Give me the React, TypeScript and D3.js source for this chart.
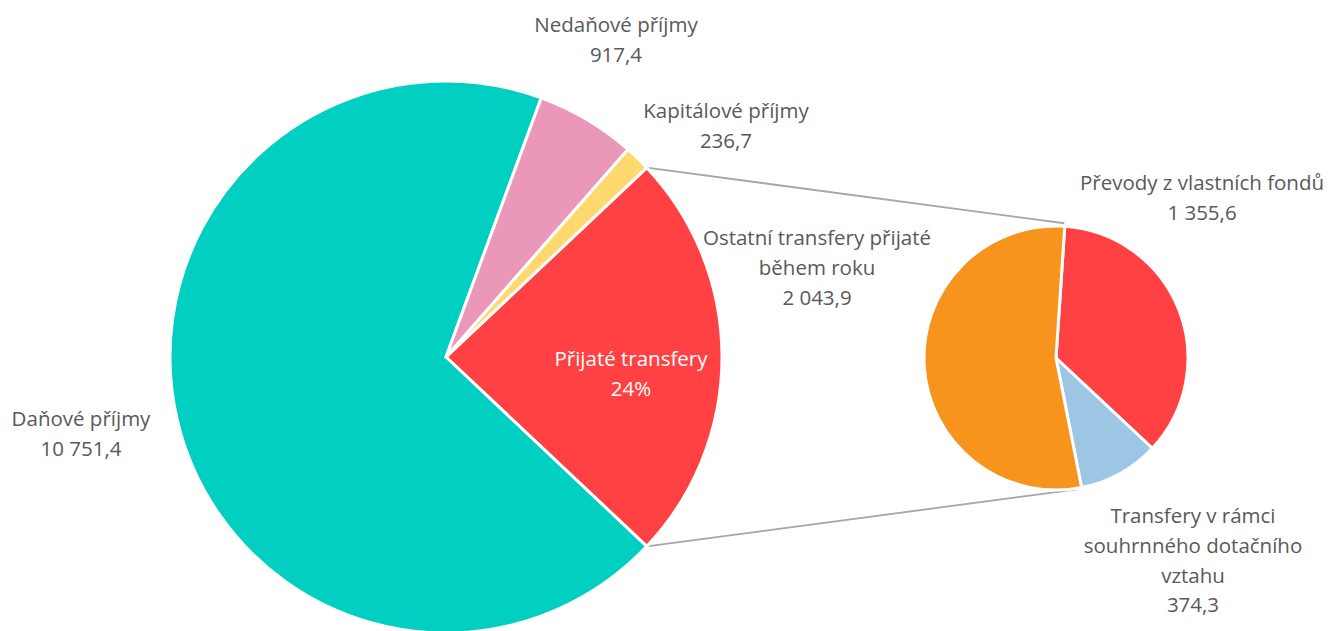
import React from "react";
import * as d3 from "d3";

// Main pie data
const mainCategories = ["Přijaté transfery", "Daňové příjmy", "Nedaňové příjmy", "Kapitálové příjmy"];
const mainColors = ["#FF4143", "#00CFC1", "#EA97BA", "#FFD86E"];

// Secondary pie (breakdown of Přijaté transfery)
const subCategories = ["Převody z vlastních fondů", "Transfery v rámci souhrnného dotačního vztahu", "Ostatní transfery přijaté během roku"];
const subValues = [1355.6, 374.3, 2043.9];
const subColors = ["#FF4143", "#9DC6E5", "#F7941D"];

const otherValues = [10751.4, 917.4, 236.7];
const transfersTotal = d3.sum(subValues);
const mainValues = [transfersTotal, ...otherValues];

const fmt = (v: number) => {
  const s = d3.format(",.1f")(v);
  return s.replace(/,/g, " ").replace(".", ",");
};

const W = 1333, H = 631;
const FONT = "'Open Sans', sans-serif";
const TEXT = "#595959";

export default function App() {
  const total = d3.sum(mainValues);
  const transferAngle = (transfersTotal / total) * 2 * Math.PI;
  const mainStart = Math.PI / 2 - transferAngle / 2;
  const mainPie = d3.pie<number>().sort(null).value((d) => d).startAngle(mainStart).endAngle(mainStart + 2 * Math.PI);
  const mainArcs = mainPie(mainValues);
  const mc = { x: 446, y: 357 }, mr = 276;
  const mainArc = d3.arc<d3.PieArcDatum<number>>().innerRadius(0).outerRadius(mr);

  const subStart = (3.8 * Math.PI) / 180;
  const subPie = d3.pie<number>().sort(null).value((d) => d).startAngle(subStart).endAngle(subStart + 2 * Math.PI);
  const subArcs = subPie(subValues);
  const sc = { x: 1056, y: 358 }, sr = 132;
  const subArc = d3.arc<d3.PieArcDatum<number>>().innerRadius(0).outerRadius(sr);

  const pt = (c: { x: number; y: number }, r: number, a: number) => [c.x + r * Math.sin(a), c.y - r * Math.cos(a)];
  const t = mainArcs[0];
  const p1 = pt(mc, mr, t.startAngle);
  const p2 = pt(mc, mr, t.endAngle);
  const q1 = pt(sc, sr + 3, (3.5 * Math.PI) / 180);
  const q2 = pt(sc, sr + 1, (171 * Math.PI) / 180);

  const pct = Math.round((transfersTotal / total) * 100) + "%";

  type Lbl = { x: number; y: number; lines: string[]; fill?: string };
  const labels: Lbl[] = [
    { x: 616, y: 32, lines: [mainCategories[2], fmt(otherValues[1])] },
    { x: 726, y: 118, lines: [mainCategories[3], fmt(otherValues[2])] },
    { x: 81, y: 426, lines: [mainCategories[1], fmt(otherValues[0])] },
    { x: 631, y: 366, lines: [mainCategories[0], pct], fill: "#FFFFFF" },
    { x: 1202, y: 190, lines: [subCategories[0], fmt(subValues[0])] },
    { x: 817, y: 245, lines: ["Ostatní transfery přijaté", "během roku", fmt(subValues[2])] },
    { x: 1193, y: 523, lines: ["Transfery v rámci", "souhrnného dotačního", "vztahu", fmt(subValues[1])] },
  ];

  return (
    <svg width={W} height={H} style={{ position: "fixed", left: 0, top: 0, background: "#fff" }}>
      <line x1={p1[0]} y1={p1[1]} x2={q1[0]} y2={q1[1]} stroke="#A6A6A6" strokeWidth={1.8} />
      <line x1={p2[0]} y1={p2[1]} x2={q2[0]} y2={q2[1]} stroke="#A6A6A6" strokeWidth={1.8} />
      <g transform={`translate(${mc.x},${mc.y})`}>
        {mainArcs.map((a, i) => (
          <path key={i} d={mainArc(a) || ""} fill={mainColors[i]} stroke="#fff" strokeWidth={3} strokeLinejoin="round" />
        ))}
      </g>
      <g transform={`translate(${sc.x},${sc.y})`}>
        {subArcs.map((a, i) => (
          <path key={i} d={subArc(a) || ""} fill={subColors[i]} stroke="#fff" strokeWidth={3} strokeLinejoin="round" />
        ))}
      </g>
      {labels.map((l, i) => (
        <text key={i} x={l.x} y={l.y} textAnchor="middle" fontFamily={FONT} fontSize={20.5} fill={l.fill || TEXT}>
          {l.lines.map((s, j) => (
            <tspan key={j} x={l.x} dy={j === 0 ? 0 : 29.8}>{s}</tspan>
          ))}
        </text>
      ))}
    </svg>
  );
}
